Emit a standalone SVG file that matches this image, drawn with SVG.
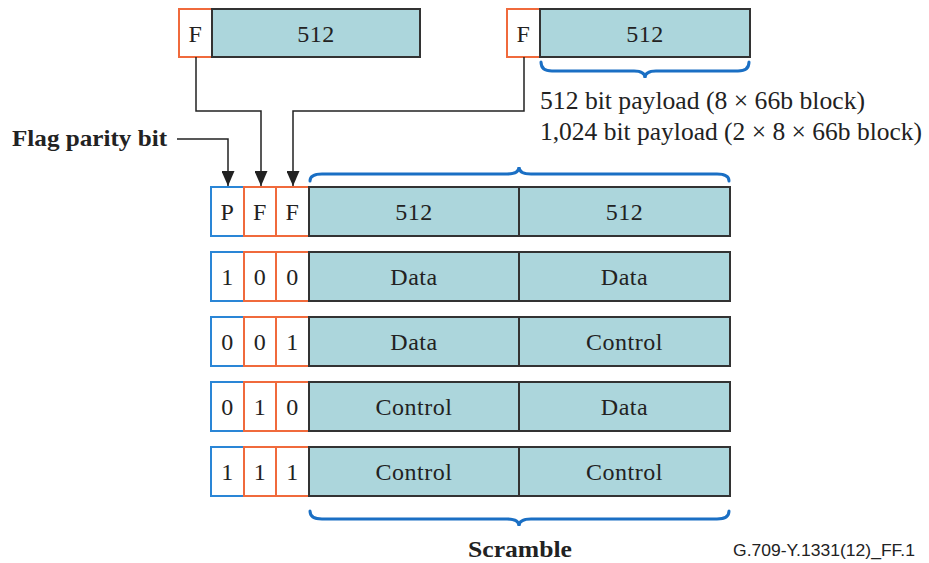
<svg xmlns="http://www.w3.org/2000/svg" width="929" height="563" viewBox="0 0 929 563">
<style>
.t{font-family:"Liberation Serif","Times New Roman",serif;fill:#222;}
.c{font-size:24px;text-anchor:middle;letter-spacing:0.5px;}
.d{fill:#acd6dc;stroke:#333;stroke-width:2;}
.o{fill:#fff;stroke:#f06a3c;stroke-width:2;}
.b{fill:#fff;stroke:#2a86d6;stroke-width:2;}
.br{fill:none;stroke:#1a6fc4;stroke-width:3;stroke-linecap:round;}
.ln{fill:none;stroke:#222;stroke-width:1.5;}
</style>
<defs>
<marker id="ah" viewBox="0 0 15 13" refX="15" refY="6.5" markerWidth="15" markerHeight="13" markerUnits="userSpaceOnUse" orient="auto">
<path d="M0,0 L15,6.5 L0,13 Z" fill="#222"/>
</marker>
</defs>
<rect width="929" height="563" fill="#fff"/>
<g id="top-left">
<rect class="o" x="179" y="9" width="33" height="48"/>
<rect class="d" x="212" y="9" width="208" height="48"/>
<text class="t c" x="195.5" y="42">F</text>
<text class="t c" x="316" y="42">512</text>
</g>
<g id="top-right">
<rect class="o" x="507" y="9" width="33" height="48"/>
<rect class="d" x="540" y="9" width="210" height="48"/>
<text class="t c" x="523.5" y="42">F</text>
<text class="t c" x="645" y="42">512</text>
</g>
<g id="connectors">
<path class="ln" d="M196,57 V111 H261 V186" marker-end="url(#ah)"/>
<path class="ln" d="M524,57 V111 H293 V186" marker-end="url(#ah)"/>
<path class="ln" d="M177,139 H228 V186" marker-end="url(#ah)"/>
</g>
<g id="braces">
<path class="br" d="M541,62 Q541,71 552,71 L634,71 Q645,71 645,78 Q645,71 656,71 L738,71 Q749,71 749,62"/>
<path class="br" d="M310,181 Q310,174 322,174 L507,174 Q519,174 519,167 Q519,174 531,174 L717,174 Q729,174 729,181"/>
<path class="br" d="M310,511 Q310,519 322,519 L507,519 Q519,519 519,526 Q519,519 531,519 L717,519 Q729,519 729,511"/>
</g>
<g id="labels">
<text class="t" x="540" y="109" font-size="25" textLength="325" lengthAdjust="spacingAndGlyphs">512 bit payload (8 × 66b block)</text>
<text class="t" x="540" y="140" font-size="25" textLength="382" lengthAdjust="spacingAndGlyphs">1,024 bit payload (2 × 8 × 66b block)</text>
<text class="t" x="12" y="146" font-size="24" font-weight="bold" textLength="155" lengthAdjust="spacingAndGlyphs">Flag parity bit</text>
<text class="t" x="468" y="557" font-size="24" font-weight="bold" textLength="104" lengthAdjust="spacingAndGlyphs">Scramble</text>
<text x="733" y="556" font-size="17" font-family="Liberation Sans,Arial,sans-serif" fill="#222" textLength="182" lengthAdjust="spacingAndGlyphs">G.709-Y.1331(12)_FF.1</text>
</g>
<g id="row1">
<rect class="b" x="211" y="187" width="33" height="49"/>
<rect class="o" x="244" y="187" width="32" height="49"/>
<rect class="o" x="276" y="187" width="33" height="49"/>
<rect class="d" x="309" y="187" width="210" height="49"/>
<rect class="d" x="519" y="187" width="211" height="49"/>
<text class="t c" x="227.5" y="220">P</text>
<text class="t c" x="260" y="220">F</text>
<text class="t c" x="292.5" y="220">F</text>
<text class="t c" x="414" y="220">512</text>
<text class="t c" x="624.5" y="220">512</text>
</g>
<g id="row2">
<rect class="b" x="211" y="252" width="33" height="49"/>
<rect class="o" x="244" y="252" width="32" height="49"/>
<rect class="o" x="276" y="252" width="33" height="49"/>
<rect class="d" x="309" y="252" width="210" height="49"/>
<rect class="d" x="519" y="252" width="211" height="49"/>
<text class="t c" x="227.5" y="285">1</text>
<text class="t c" x="260" y="285">0</text>
<text class="t c" x="292.5" y="285">0</text>
<text class="t c" x="414" y="285">Data</text>
<text class="t c" x="624.5" y="285">Data</text>
</g>
<g id="row3">
<rect class="b" x="211" y="317" width="33" height="49"/>
<rect class="o" x="244" y="317" width="32" height="49"/>
<rect class="o" x="276" y="317" width="33" height="49"/>
<rect class="d" x="309" y="317" width="210" height="49"/>
<rect class="d" x="519" y="317" width="211" height="49"/>
<text class="t c" x="227.5" y="350">0</text>
<text class="t c" x="260" y="350">0</text>
<text class="t c" x="292.5" y="350">1</text>
<text class="t c" x="414" y="350">Data</text>
<text class="t c" x="624.5" y="350">Control</text>
</g>
<g id="row4">
<rect class="b" x="211" y="382" width="33" height="49"/>
<rect class="o" x="244" y="382" width="32" height="49"/>
<rect class="o" x="276" y="382" width="33" height="49"/>
<rect class="d" x="309" y="382" width="210" height="49"/>
<rect class="d" x="519" y="382" width="211" height="49"/>
<text class="t c" x="227.5" y="415">0</text>
<text class="t c" x="260" y="415">1</text>
<text class="t c" x="292.5" y="415">0</text>
<text class="t c" x="414" y="415">Control</text>
<text class="t c" x="624.5" y="415">Data</text>
</g>
<g id="row5">
<rect class="b" x="211" y="447" width="33" height="49"/>
<rect class="o" x="244" y="447" width="32" height="49"/>
<rect class="o" x="276" y="447" width="33" height="49"/>
<rect class="d" x="309" y="447" width="210" height="49"/>
<rect class="d" x="519" y="447" width="211" height="49"/>
<text class="t c" x="227.5" y="480">1</text>
<text class="t c" x="260" y="480">1</text>
<text class="t c" x="292.5" y="480">1</text>
<text class="t c" x="414" y="480">Control</text>
<text class="t c" x="624.5" y="480">Control</text>
</g>
</svg>
